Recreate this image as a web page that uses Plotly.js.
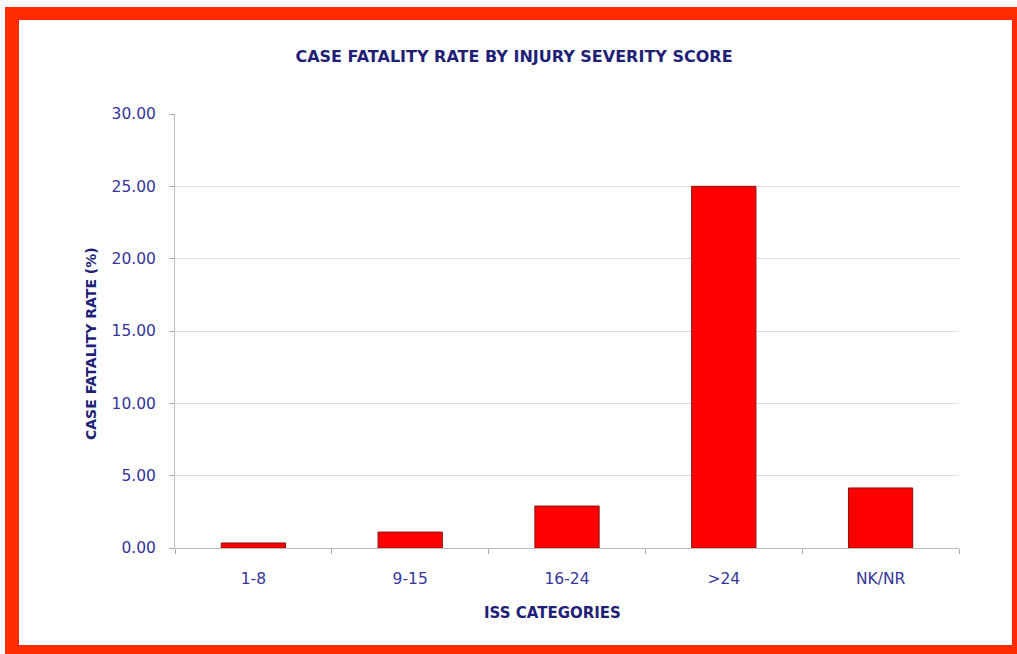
<!DOCTYPE html>
<html><head><meta charset="utf-8">
<script src="https://cdn.plot.ly/plotly-3.0.1.min.js"></script>
<style>
html,body{margin:0;padding:0;background:#fff;width:1017px;height:654px;overflow:hidden;}
#chart{position:absolute;left:0;top:0;width:1017px;height:654px;}
#frame{position:absolute;left:5px;top:7px;width:1012px;height:647px;box-sizing:border-box;
border-style:solid;border-color:#FF2A00;border-width:13px 5px 9px 14px;pointer-events:none;}
</style></head>
<body>
<div id="chart"></div>
<div id="frame"></div>
<script>
const categories = ['1-8', '9-15', '16-24', '>24', 'NK/NR'];
const fatalityRate = [0.35, 1.1, 2.9, 25.0, 4.15];
const yTickValues = [0, 5, 10, 15, 20, 25, 30];

const navy = '#35359A';
const dark = '#1F1F78';
const font = 'DejaVu Sans, sans-serif';

Plotly.newPlot('chart', [{
  type: 'bar',
  x: categories,
  y: fatalityRate,
  width: 0.41,
  marker: {color: '#FF0000', line: {color: '#8B1010', width: 1}},
  hoverinfo: 'x+y'
}], {
  width: 1017, height: 654,
  paper_bgcolor: 'rgba(0,0,0,0)', plot_bgcolor: '#fff',
  margin: {l: 175, r: 58, t: 114, b: 106},
  showlegend: false,
  title: {text: '<b>CASE FATALITY RATE BY INJURY SEVERITY SCORE</b>', x: 514/1017, xanchor: 'center', y: 1 - 56/654, yanchor: 'middle',
          font: {family: font, size: 16, color: dark}},
  xaxis: {
    type: 'category',
    tickson: 'boundaries', ticks: 'outside', ticklen: 5, tickcolor: '#aaa',
    showline: true, linecolor: '#bbb', linewidth: 1,
    showgrid: false,
    ticklabelstandoff: 16,
    tickfont: {family: font, size: 15.5, color: navy}
  },
  yaxis: {
    range: [0, 30], tickvals: yTickValues, tickformat: '.2f',
    ticks: 'outside', ticklen: 5, tickcolor: '#aaa',
    showline: true, linecolor: '#bbb', linewidth: 1,
    showgrid: true, gridcolor: '#dedede', gridwidth: 1,
    zeroline: false,
    ticklabelstandoff: 10,
    tickfont: {family: font, size: 15.5, color: navy}
  },
  annotations: [
    {text: '<b>ISS CATEGORIES</b>', xref: 'paper', yref: 'paper', x: (552 - 175) / 784, y: -(613 - 548) / 434,
     xanchor: 'center', yanchor: 'middle', showarrow: false, font: {family: font, size: 15, color: dark}},
    {text: '<b>CASE FATALITY RATE (%)</b>', xref: 'paper', yref: 'paper', x: -(175 - 91) / 784, y: (548 - 344) / 434,
     xanchor: 'center', yanchor: 'middle', textangle: -90, showarrow: false, font: {family: font, size: 14, color: dark}}
  ]
}, {displayModeBar: false, staticPlot: true});
</script>
</body></html>
